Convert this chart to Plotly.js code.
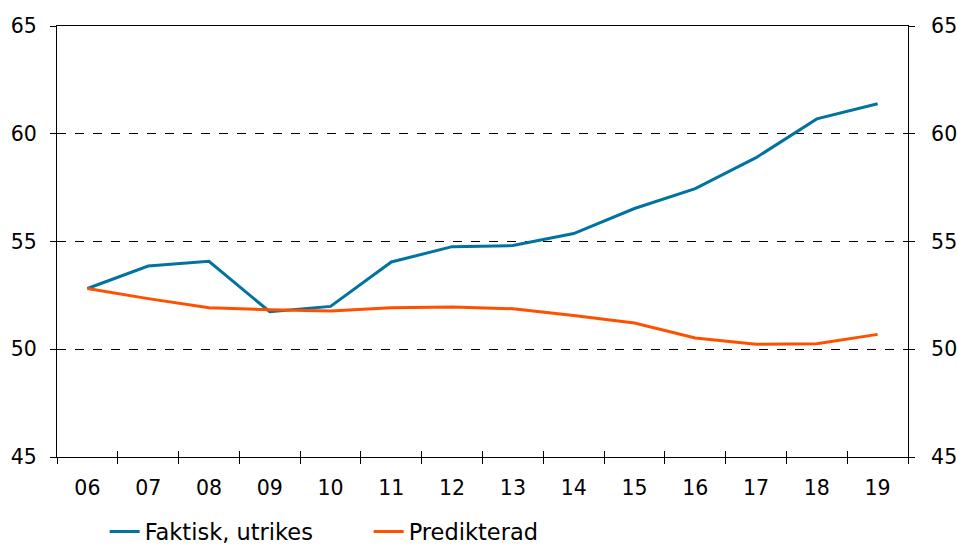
<!DOCTYPE html>
<html>
<head>
<meta charset="utf-8">
<script src="https://cdn.plot.ly/plotly-3.0.1.min.js"></script>
<style>html,body{margin:0;padding:0;background:#fff}#chart{width:957px;height:545px}</style>
</head>
<body>
<div id="chart"></div>
<script>
// Years (two-digit labels) and the two series
const years = ["06","07","08","09","10","11","12","13","14","15","16","17","18","19"];
const faktisk = [52.82, 53.86, 54.08, 51.74, 51.99, 54.05, 54.76, 54.81, 55.37, 56.53, 57.45, 58.89, 60.69, 61.39];
const predikterad = [52.82, 52.35, 51.93, 51.83, 51.78, 51.92, 51.96, 51.88, 51.57, 51.22, 50.52, 50.23, 50.26, 50.69];
const yTicks = [45, 50, 55, 60, 65];

const FONT = "DejaVu Sans, Verdana, sans-serif";
const boundaries = years.map((_, i) => i - 0.5).concat([years.length - 0.5]);

const traces = [
  { x: years, y: faktisk, name: "Faktisk, utrikes", type: "scatter", mode: "lines",
    line: { color: "#0073A0", width: 3 } },
  { x: years, y: predikterad, name: "Predikterad", type: "scatter", mode: "lines",
    line: { color: "#FF5000", width: 3 } },
  // invisible trace that carries the right-hand value axis
  { x: [0], y: [50], xaxis: "x2", yaxis: "y2", mode: "markers", showlegend: false,
    hoverinfo: "skip", marker: { opacity: 0 } }
];

const layout = {
  width: 957, height: 545,
  margin: { l: 57, r: 49, t: 26, b: 88, autoexpand: false },
  paper_bgcolor: "#fff", plot_bgcolor: "#fff",
  font: { family: FONT, size: 20.5, color: "#000" },
  showlegend: true,
  legend: { orientation: "h", x: 0.056, xanchor: "left", y: -0.174, yanchor: "middle",
            entrywidth: 219, entrywidthmode: "pixels", font: { family: FONT, size: 22.5 },
            itemwidth: 30 },
  xaxis: {
    type: "category", range: [-0.5, years.length - 0.5],
    showline: true, linecolor: "#000", linewidth: 1, mirror: true,
    ticks: "outside", ticklen: 6, tickcolor: "#000", tickson: "boundaries",
    showgrid: false, zeroline: false, ticklabelstandoff: 12,
    tickfont: { family: FONT, size: 20.5 }
  },
  xaxis2: {
    overlaying: "x", range: [-0.5, years.length - 0.5], anchor: "y",
    tickmode: "array", tickvals: boundaries, showticklabels: false,
    ticks: "inside", ticklen: 6, tickcolor: "#000",
    showgrid: false, zeroline: false, showline: false
  },
  yaxis: {
    range: [45, 65], tickvals: yTicks,
    showline: true, linecolor: "#000", linewidth: 1,
    ticks: "outside", ticklen: 6, tickcolor: "#000", ticklabelstandoff: 9,
    showgrid: true, gridcolor: "#000", griddash: "dash", gridwidth: 1,
    zeroline: false, tickfont: { family: FONT, size: 20.5 }
  },
  yaxis2: {
    overlaying: "y", side: "right", range: [45, 65], tickvals: yTicks,
    showline: true, linecolor: "#000", linewidth: 1,
    ticks: "outside", ticklen: 6, tickcolor: "#000", ticklabelstandoff: 12,
    showgrid: false, zeroline: false, tickfont: { family: FONT, size: 20.5 }
  }
};

Plotly.newPlot("chart", traces, layout, { staticPlot: true, displayModeBar: false });
</script>
</body>
</html>
